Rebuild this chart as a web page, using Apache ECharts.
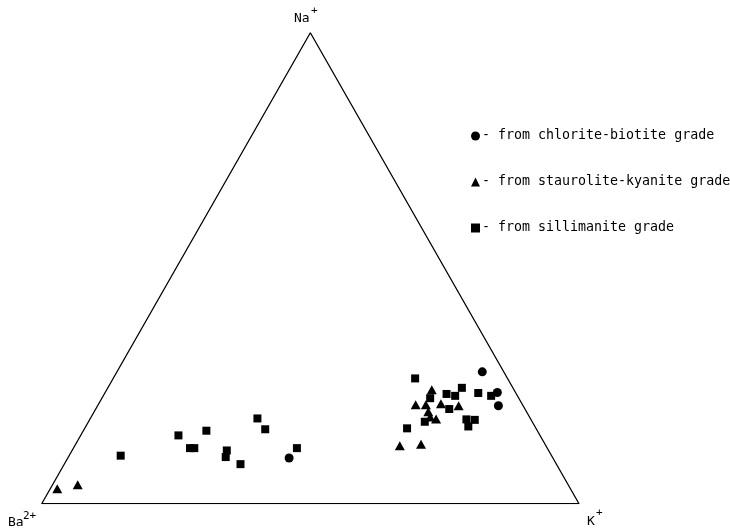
<!DOCTYPE html>
<html>
<head>
<meta charset="utf-8">
<script src="https://cdn.jsdelivr.net/npm/echarts@6/dist/echarts.min.js"></script>
<style>html,body{margin:0;padding:0;background:#fff}#c{width:730px;height:529px}</style>
</head>
<body>
<div id="c"></div>
<script>
// Compositions as [Na, K, Ba] (percent)
const vertices = [[100, 0, 0], [0, 100, 0], [0, 0, 100]];
const seriesNames = ['from chlorite-biotite grade', 'from staurolite-kyanite grade', 'from sillimanite grade'];
const chloriteBiotite = [[28, 68, 4], [23.6, 73, 3.4], [20.8, 74.6, 4.6], [9.7, 41.2, 49.1]];
const stauroliteKyanite = [
  [24.2, 60.5, 15.3], [21.0, 59.1, 19.9], [21.0, 61.0, 18.0], [21.2, 63.7, 15.1],
  [20.8, 67.2, 12.0], [19.5, 62.2, 18.3], [18.4, 63.1, 18.5], [18.0, 64.4, 17.6],
  [12.3, 60.5, 27.2], [12.6, 64.3, 23.1], [3.2, 1.3, 95.5], [4.0, 4.7, 91.3]
];
const sillimanite = [
  [26.6, 56.2, 17.2], [22.4, 61.1, 16.5], [23.3, 63.7, 13.0], [22.9, 65.5, 11.6],
  [24.6, 65.9, 9.5], [23.5, 69.5, 7.0], [22.9, 72.2, 4.9], [20.1, 65.8, 14.1],
  [17.4, 62.6, 20.0], [17.9, 70.1, 12.0], [17.8, 71.7, 10.5], [16.4, 71.2, 12.4],
  [16.0, 60.0, 24.0], [10.2, 9.6, 80.2], [14.5, 18.2, 67.3], [11.8, 21.7, 66.5],
  [11.8, 22.5, 65.7], [15.5, 22.9, 61.6], [11.3, 28.8, 59.9], [9.9, 29.3, 60.8],
  [8.4, 32.8, 58.8], [18.1, 31.1, 50.8], [15.8, 33.7, 50.5], [11.8, 41.6, 46.6]
];
const vertexLabels = [['Na', '+'], ['Ba', '2+'], ['K', '+']];

function toXY(p) {
  const s = p[0] + p[1] + p[2];
  return [(p[1] + p[0] / 2) / s * 100, p[0] / s * 100];
}

const chart = echarts.init(document.getElementById('c'));
const font = 'DejaVu Sans Mono';
function txt(x, y, text, size) {
  return {
    type: 'text', x: x, y: y, silent: true,
    style: { text: text, align: 'left', verticalAlign: 'middle', fill: '#000', font: size + 'px "' + font + '"' }
  };
}
chart.setOption({
  backgroundColor: '#fff',
  animation: false,
  grid: { left: 41.7, right: 151, top: 32.7, bottom: 25.3 },
  xAxis: { type: 'value', min: 0, max: 100, show: false },
  yAxis: { type: 'value', min: 0, max: 100, show: false },
  legend: {
    orient: 'vertical',
    left: 471,
    top: 128,
    padding: 0,
    itemWidth: 9,
    itemHeight: 9,
    itemGap: 30,
    formatter: '- {name}',
    textStyle: { fontFamily: font, fontSize: 13.3, color: '#000', lineHeight: 16, padding: [0, 0, 0, -3] },
    data: [
      { name: seriesNames[0], icon: 'circle' },
      { name: seriesNames[1], icon: 'triangle' },
      { name: seriesNames[2], icon: 'rect' }
    ]
  },
  graphic: [
    txt(294, 19, vertexLabels[0][0], 13), txt(311, 11, vertexLabels[0][1], 11),
    txt(8, 523, vertexLabels[1][0], 13), txt(23, 516, vertexLabels[1][1], 11),
    txt(587, 522, vertexLabels[2][0], 13), txt(596, 513, vertexLabels[2][1], 11)
  ],
  series: [
    {
      type: 'line', silent: true, symbol: 'none',
      lineStyle: { color: '#000', width: 1.3 },
      data: vertices.concat([vertices[0]]).map(toXY),
      z: 1
    },
    {
      name: seriesNames[0], type: 'scatter', symbol: 'circle', symbolSize: 9,
      itemStyle: { color: '#000', opacity: 1 }, data: chloriteBiotite.map(toXY), z: 3
    },
    {
      name: seriesNames[1], type: 'scatter', symbol: 'triangle', symbolSize: [10, 9],
      itemStyle: { color: '#000', opacity: 1 }, data: stauroliteKyanite.map(toXY), z: 3
    },
    {
      name: seriesNames[2], type: 'scatter', symbol: 'rect', symbolSize: 8,
      itemStyle: { color: '#000', opacity: 1 }, data: sillimanite.map(toXY), z: 3
    }
  ]
});
</script>
</body>
</html>
